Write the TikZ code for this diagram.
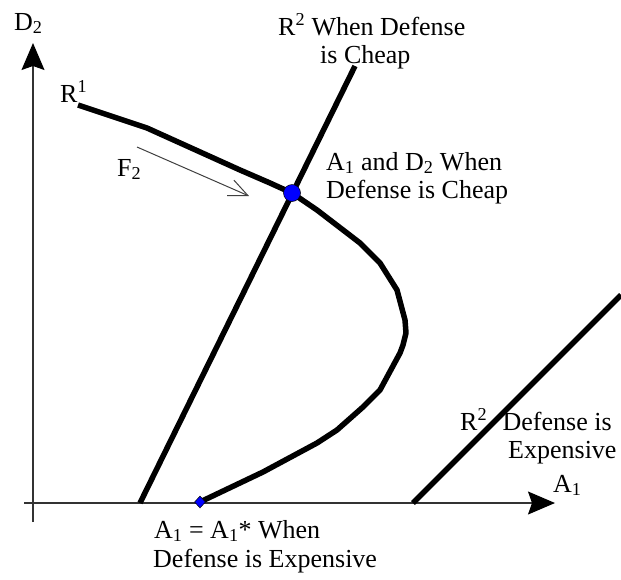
\documentclass[tikz,border=0pt]{standalone}
\usepackage{fontspec}
\setmainfont{Liberation Serif}
\usetikzlibrary{arrows.meta,shapes.geometric}
\begin{document}
\begin{tikzpicture}[x=1pt,y=-1pt,
  font=\fontsize{26}{29}\selectfont,
  axis/.style={line width=1.2pt, draw=black!80, -{Stealth[length=27pt,width=23pt,inset=4pt,color=black]}},
  curve/.style={line width=5.5pt, line join=round},
  lbl/.style={anchor=base west, inner sep=0pt},
  dot/.style={circle, fill=blue, draw=black, line width=0.5pt, minimum size=17pt, inner sep=0pt},
  dia/.style={diamond, fill=blue, draw=black, line width=0.5pt, minimum width=11pt, minimum height=12pt, inner sep=0pt}]
\useasboundingbox (0,0) rectangle (621,579);
% coordinates
\coordinate (ybot) at (33,522);
\coordinate (ytop) at (33,43);
\coordinate (xl) at (24,503);
\coordinate (xr) at (555,503);
\coordinate (eqc) at (292,193);
\coordinate (asc) at (200,502);
\coordinate (c1) at (140,503);
\coordinate (c2) at (355,66);
\coordinate (e1) at (413,503);
\coordinate (e2) at (621,295);
\coordinate (f1) at (137,147);
\coordinate (f2) at (249,196);
% axes
\draw[axis] (ybot) -- (ytop);
\draw[axis] (xl) -- (xr);
% R2 lines
\draw[curve] (c1) -- (c2);
\draw[curve] (e1) -- (e2);
% R1 curve
\draw[curve] (78,105) -- (147,128) -- (240,170) -- (270,183) -- (eqc) -- (317,210)
  -- (347,233) -- (360,243) -- (380,263) -- (397,290) -- (405,320) -- (406,333)
  -- (403,345) -- (400,353) -- (380,390) -- (363,407) -- (337,430) -- (317,443)
  -- (263,472) -- (asc);
% F2 arrow
\draw[line width=1pt, draw=black!75, -{Straight Barb[length=19pt,width=17pt]}] (f1) -- (f2);
% points
\node[dot] (eq) at (eqc) {};
\node[dia] (astar) at (asc) {};
% labels
\node[lbl] (d2) at (14,30) {D\textsubscript{2}};
\node[lbl] (r1) at (60,102) {R\textsuperscript{1}};
\node[lbl] (f2l) at (117,176) {F\textsubscript{2}};
\node[lbl] (a1) at (553,492) {A\textsubscript{1}};
\node[lbl] (ch1) at (278,35) {R\textsuperscript{2} When Defense};
\node[lbl] (ch2) at (320,63) {is Cheap};
\node[lbl] (eq1) at (326,170) {A\textsubscript{1} and D\textsubscript{2} When};
\node[lbl] (eq2) at (326,198) {Defense is Cheap};
\node[lbl] (as1) at (154,538) {A\textsubscript{1} = A\textsubscript{1}* When};
\node[lbl] (as2) at (153,567) {Defense is Expensive};
\node[lbl] (ex1) at (460,430) {R\textsuperscript{2}\hspace{9pt} Defense is};
\node[lbl] (ex2) at (508,458) {Expensive};
\end{tikzpicture}
\end{document}
